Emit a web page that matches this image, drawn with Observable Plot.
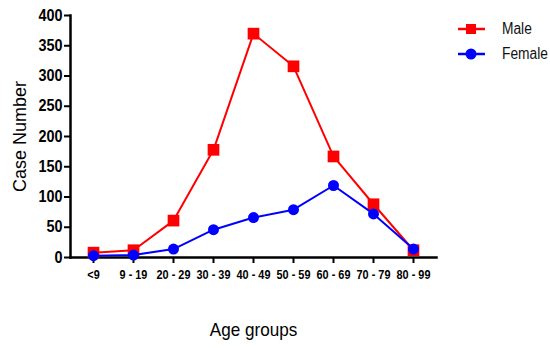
<!DOCTYPE html>
<html><head><meta charset="utf-8">
<script src="https://cdn.jsdelivr.net/npm/d3@7"></script>
<script src="https://cdn.jsdelivr.net/npm/@observablehq/plot@0.6"></script>
<style>
body{margin:0;background:#fff;font-family:"Liberation Sans",Arial,sans-serif;}
#wrap{position:relative;width:550px;height:348px;}
#legend{position:absolute;left:458px;top:16px;font-size:16px;color:#111;}
#legend .row{display:flex;align-items:center;height:25px;}
#legend svg{margin-right:17px;}
#legend span{display:inline-block;transform:scaleX(0.86);transform-origin:left center;}
</style></head>
<body><div id="wrap"><div id="chart"></div><div id="legend"></div></div>
<script>
const ageGroups = ["<9","9 - 19","20 - 29","30 - 39","40 - 49","50 - 59","60 - 69","70 - 79","80 - 99"];
const maleCases = [8, 12, 61, 178, 370, 316, 167, 88, 12];
const femaleCases = [3, 4, 14, 46, 66, 79, 119, 72, 14];
const yTicks = [0,50,100,150,200,250,300,350,400];
const seriesNames = ["Male","Female"];
const seriesColors = ["#ff0000","#0000ff"];

const male = ageGroups.map((g,i)=>({group:g, value:maleCases[i]}));
const female = ageGroups.map((g,i)=>({group:g, value:femaleCases[i]}));

const chart = Plot.plot({
  width: 550, height: 348,
  marginLeft: 70, marginRight: 114, marginTop: 15, marginBottom: 91,
  style: {fontFamily: '"Liberation Sans", Arial, sans-serif', color: "#000", background: "#fff"},
  x: {type: "point", domain: ageGroups, padding: 0.5},
  y: {domain: [0, 400]},
  marks: [
    Plot.axisY({ticks: yTicks, tickSize: 6, tickPadding: 2, strokeWidth: 2, fontWeight: "bold",
      label: "Case Number", labelAnchor: "center", labelArrow: "none", labelOffset: 57}),
    Plot.axisX({tickSize: 6, tickPadding: 7, strokeWidth: 2, fontWeight: "bold",
      label: "Age groups", labelAnchor: "center", labelArrow: "none", labelOffset: 78}),
    Plot.frame({anchor: "left", strokeWidth: 2.5, stroke: "#000"}),
    Plot.frame({anchor: "bottom", strokeWidth: 2.5, stroke: "#000"}),
    Plot.line(male, {x: "group", y: "value", stroke: seriesColors[0], strokeWidth: 2}),
    Plot.dot(male, {x: "group", y: "value", fill: seriesColors[0], symbol: "square", r: 6.6}),
    Plot.line(female, {x: "group", y: "value", stroke: seriesColors[1], strokeWidth: 2}),
    Plot.dot(female, {x: "group", y: "value", fill: seriesColors[1], r: 5.5})
  ]
});
function styleText(sel, size, weight){
  chart.querySelectorAll(sel).forEach(g=>{
    g.querySelectorAll("text").forEach(t=>{t.style.fontSize = size + "px"; t.style.fontWeight = weight;});
  });
}
styleText('[aria-label="y-axis tick label"]', 16, "bold");
styleText('[aria-label="x-axis tick label"]', 12.5, "bold");
styleText('[aria-label="y-axis label"]', 18, "normal");
styleText('[aria-label="x-axis label"]', 19, "normal");
document.getElementById("chart").appendChild(chart);

// horizontally condense text like the reference
function condense(sel, k){
  chart.querySelectorAll(sel).forEach(t=>{
    const w = t.getComputedTextLength();
    if (w > 0) { t.setAttribute("textLength", (w*k).toFixed(2)); t.setAttribute("lengthAdjust","spacingAndGlyphs"); }
  });
}
condense('[aria-label="y-axis tick label"] text', 0.9);
condense('[aria-label="x-axis tick label"] text', 0.87);
condense('[aria-label="x-axis label"] text', 0.9);

const legend = document.getElementById("legend");
seriesNames.forEach((n,i)=>{
  const row = document.createElement("div"); row.className="row";
  const marker = i===0 ? `<rect x="8" y="3" width="10" height="10" fill="${seriesColors[i]}"/>` : `<circle cx="13" cy="8" r="5.5" fill="${seriesColors[i]}"/>`;
  row.innerHTML = `<svg width="27" height="16"><line x1="0" x2="27" y1="8" y2="8" stroke="${seriesColors[i]}" stroke-width="2.5"/>${marker}</svg><span>${n}</span>`;
  legend.appendChild(row);
});
</script></body></html>
